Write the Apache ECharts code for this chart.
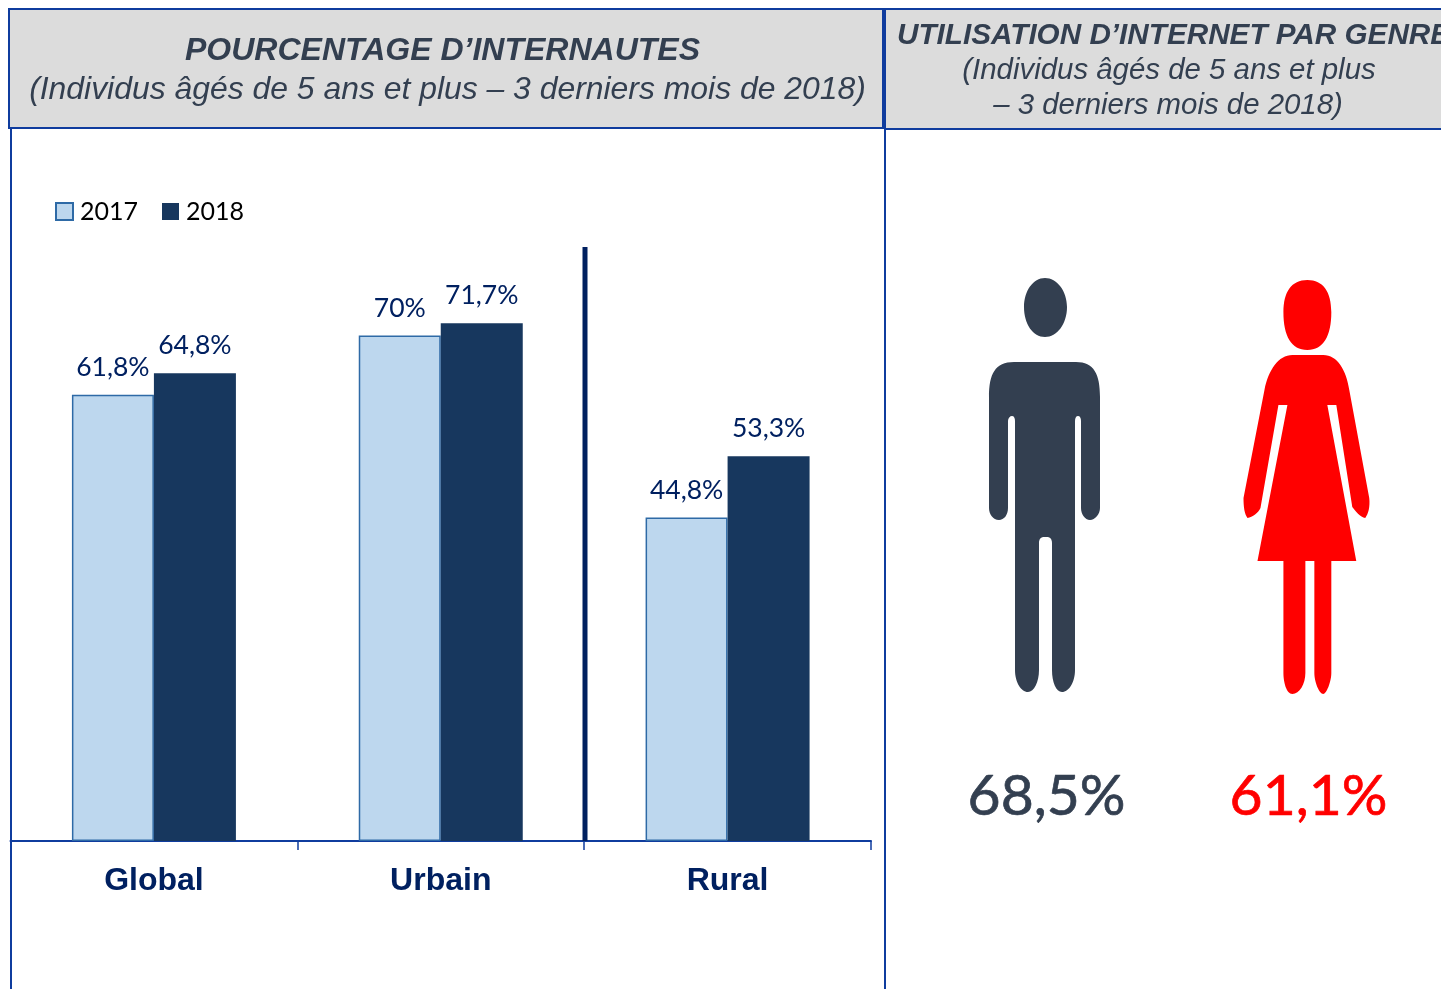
<!DOCTYPE html>
<html><head><meta charset="utf-8">
<style>html,body{margin:0;padding:0;background:#fff;overflow:hidden}#c{width:1441px;height:989px}</style>
<script src="https://cdn.jsdelivr.net/npm/echarts@6/dist/echarts.min.js"></script></head>
<body><div id="c"></div>
<script>
const categories = ['Global', 'Urbain', 'Rural'];
const values2017 = [61.8, 70, 44.8];
const values2018 = [64.8, 71.7, 53.3];
const genders = ['Hommes', 'Femmes'];
const genderValues = [68.5, 61.1];
const title1 = 'POURCENTAGE D’INTERNAUTES';
const subtitle1 = '(Individus âgés de 5 ans et plus – 3 derniers mois de 2018)';
const title2 = 'UTILISATION D’INTERNET PAR GENRE';
const subtitle2a = '(Individus âgés de 5 ans et plus';
const subtitle2b = '– 3 derniers mois de 2018)';

const manPath = 'path://M1045 278C1057 278 1067 291 1067 307C1067 324 1057 337 1045 337C1033 337 1024 324 1024 307C1024 291 1033 278 1045 278Z' +
 'M1014 362L1076 362C1094 362 1100 374 1100 397L1100 508C1100 514 1095 520 1090 520C1085 520 1081 514 1081 508L1081 421C1081 418 1080 416 1078 416C1076 416 1075 418 1075 421' +
 'L1075 670C1075 682 1069 692 1062 692C1056 692 1052 682 1052 670L1052 543C1052 539 1050 537 1047 537L1044 537C1041 537 1039 539 1039 543L1039 670C1039 682 1034 692 1028 692C1021 692 1015 682 1015 670' +
 'L1015 421C1015 418 1014 416 1012 416C1010 416 1008 418 1008 421L1008 508C1008 515 1004 520 999 520C993 520 989 514 989 508L989 397C989 374 995 362 1014 362Z';
const womanPath = 'path://M1307 280C1323 280 1331 292 1331 312C1331 336 1323 350 1307 350C1291 350 1283 336 1283 312C1283 292 1291 280 1307 280Z' +
 'M1292 355L1323 355C1337 355 1346 370 1349 390L1369 498C1370 507 1368 514 1365 518C1360 517 1355 511 1352 507L1336 405L1327 405L1356 561L1331 561L1331 673C1331 682 1326 694 1323 694C1319 694 1314 682 1314 673L1314 561L1305 561L1305 673C1305 684 1299 694 1292 694C1286 694 1283 682 1283 673L1283 561L1257 561L1287 405L1278 405L1260 508C1258 513 1252 517 1247 518C1244 514 1243 507 1243 498L1264 390C1268 370 1278 355 1292 355Z';
const symbols = [manPath, womanPath];
const symbolSizes = [[111, 414], [126, 414]];
const genderColors = ['#333f50', '#ff0000'];

const BORDER = '#0f3c9e';
const rect = (x, y, w, h, fill) => ({type:'rect', silent:true, z:0, shape:{x, y, width:w, height:h}, style:{fill, stroke:BORDER, lineWidth:2}});
const vline = (x, y1, y2, width, color) => ({type:'line', silent:true, z:5, shape:{x1:x, y1, x2:x, y2}, style:{stroke:color, lineWidth:width}});
const TITLE = {color:'#333f50', fontFamily:'Liberation Sans', fontStyle:'italic'};

const chart = echarts.init(document.getElementById('c'), null, {renderer:'canvas'});
chart.setOption({
  animation:false,
  backgroundColor:'#fff',
  title:[
    {text:title1, left:437.5, top:30, textAlign:'center', textStyle:{...TITLE, fontWeight:'bold', fontSize:32}},
    {text:subtitle1, left:442.5, top:69, textAlign:'center', textStyle:{...TITLE, fontWeight:'normal', fontSize:31.9}},
    {text:title2, left:892, top:16, textStyle:{...TITLE, fontWeight:'bold', fontSize:29.7}},
    {text:subtitle2a, left:1164, top:51, textAlign:'center', textStyle:{...TITLE, fontWeight:'normal', fontSize:29.4}},
    {text:subtitle2b, left:1163, top:86, textAlign:'center', textStyle:{...TITLE, fontWeight:'normal', fontSize:29.4}}
  ],
  legend:{left:50, top:194, data:[{name:'2017', icon:'rect'},{name:'2018', icon:'rect'}], itemWidth:17, itemHeight:17, itemGap:24, selectedMode:false,
    textStyle:{color:'#000', fontFamily:'Lato', fontSize:25, padding:[0,0,0,2]}},
  grid:[
    {left:10.5, top:119, width:860.5, height:722},
    {left:913.5, top:192, width:524, height:500}
  ],
  xAxis:[
    {type:'category', gridIndex:0, data:categories,
     axisLine:{lineStyle:{color:BORDER, width:2}},
     axisTick:{show:true, length:9, alignWithLabel:false, lineStyle:{color:BORDER, width:1.5}},
     axisLabel:{color:'#002060', fontFamily:'Liberation Sans', fontWeight:'bold', fontSize:32, margin:24}},
    {type:'category', gridIndex:1, data:genders, show:false}
  ],
  yAxis:[
    {type:'value', gridIndex:0, min:0, max:100, show:false, splitLine:{show:false}},
    {type:'value', gridIndex:1, min:0, max:100, show:false, splitLine:{show:false}}
  ],
  series:[
    {name:'2017', type:'bar', data:values2017, xAxisIndex:0, yAxisIndex:0, barWidth:82, barGap:'0%',
     itemStyle:{color:'#bdd7ee', borderColor:'#2e6aa6', borderWidth:1.5},
     label:{show:true, position:'top', distance:14, color:'#002060', fontFamily:'Lato', fontSize:26.5,
       formatter:p=>String(p.value).replace('.',',')+'%'}},
    {name:'2018', type:'bar', data:values2018, xAxisIndex:0, yAxisIndex:0, barWidth:82,
     itemStyle:{color:'#17375e'},
     label:{show:true, position:'top', distance:14, color:'#002060', fontFamily:'Lato', fontSize:26.5,
       formatter:p=>String(p.value).replace('.',',')+'%'}},
    {type:'pictorialBar', xAxisIndex:1, yAxisIndex:1, symbolPosition:'start', symbolRepeat:false,
     data:genderValues.map((v,i)=>({value:v, symbol:symbols[i], symbolSize:symbolSizes[i],
       symbolOffset:[0, i===1?2:0], itemStyle:{color:genderColors[i]},
       label:{show:true, position:'bottom', distance:76, offset:[2,0], color:genderColors[i], fontFamily:'Lato', fontSize:57,
         textBorderColor:genderColors[i], textBorderWidth:0.7,
         formatter:p=>String(p.value).replace('.',',')+'%'}}))}
  ],
  graphic:{elements:[
    rect(9,9,874,119,'#dcdcdc'),
    rect(885,9,600,120,'#dcdcdc'),
    vline(11,128,989,2,BORDER),
    vline(885,128,989,2,BORDER),
    vline(585,247,841,5,'#002060')
  ]}
});
</script></body></html>
